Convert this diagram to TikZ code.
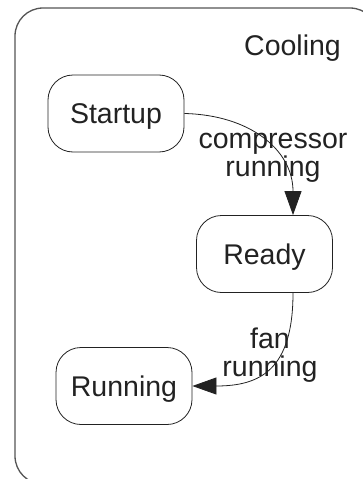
\documentclass[tikz,border=0pt]{standalone}
\usepackage{fontspec}
\setmainfont{Liberation Sans}
\usetikzlibrary{arrows.meta}
\definecolor{ink}{HTML}{222222}
\definecolor{frame}{HTML}{555555}
\tikzset{
  state/.style={draw=ink, line width=0.8pt, rounded corners=25pt, minimum width=136pt, minimum height=77pt, inner sep=0pt, text=ink, text height=20pt, text depth=0pt},
  label/.style={text=ink, align=center, inner sep=0pt},
  trans/.style={draw=ink, line width=0.8pt, -{Triangle[length=24pt,width=17pt]}},
}
\begin{document}
\begin{tikzpicture}[x=1pt,y=-1pt, font=\fontsize{28.5}{28}\selectfont]
\useasboundingbox (0,0) rectangle (363,479);
\clip (0,0) rectangle (363,479);
\draw[frame, line width=1.3pt, rounded corners=28pt] (15,8) rectangle (378,484);
\node[label, anchor=base] (cooling) at (292.5,55) {Cooling};
\node[state] (startup) at (116,113.5) {Startup};
\node[state] (ready) at (264.5,254) {Ready};
\node[state] (running) at (124,386) {Running};
\draw[trans] (startup.east) .. controls (250,115) and ([xshift=28.5pt]ready.north |- 0,150) .. ([xshift=28.5pt]ready.north);
\node[label] (lab1) at (273,158) {compressor\\running};
\draw[trans] ([xshift=28.5pt]ready.south) .. controls (293,370) and (260,386) .. (running.east);
\node[label] (lab2) at (270,355) {fan\\running};
\end{tikzpicture}
\end{document}
